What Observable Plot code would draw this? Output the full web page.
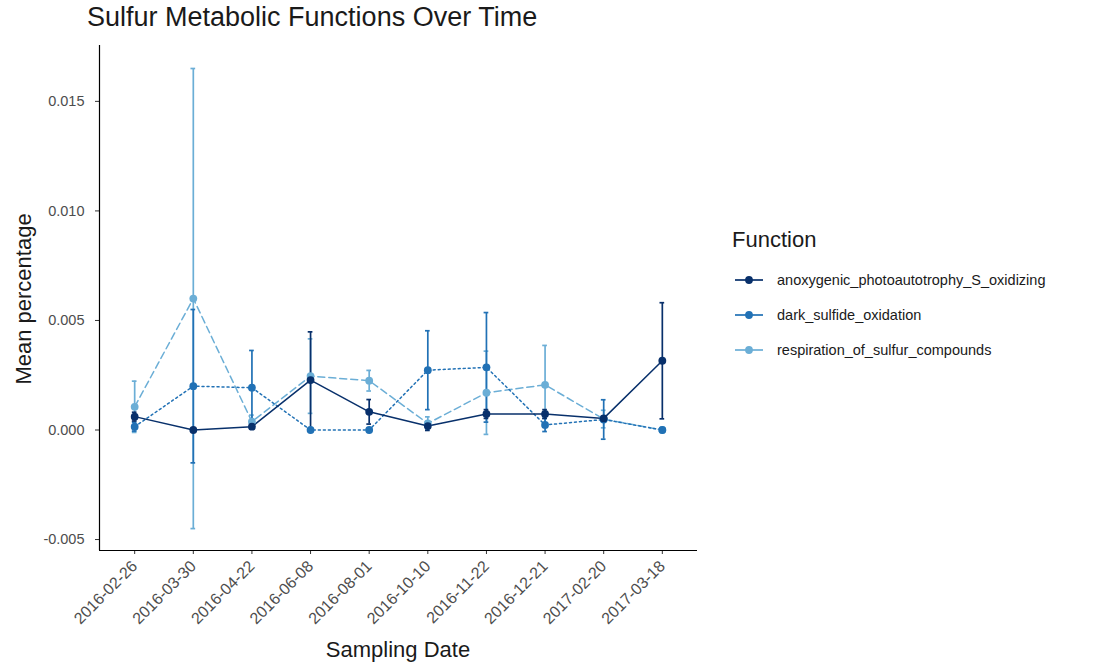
<!DOCTYPE html>
<html>
<head>
<meta charset="utf-8">
<script src="https://cdn.jsdelivr.net/npm/d3@7"></script>
<script src="https://cdn.jsdelivr.net/npm/@observablehq/plot@0.6"></script>
<style>
  body { margin: 0; background: #fff; font-family: "Liberation Sans", Arial, Helvetica, sans-serif; }
  #wrap { position: relative; width: 1110px; height: 668px; overflow: hidden; }
  #title { position: absolute; left: 87px; top: 2px; font-size: 27px; color: #1a1a1a; white-space: nowrap; }
  #ylab { position: absolute; left: 24px; top: 299px; font-size: 22px; color: #1a1a1a; white-space: nowrap;
          transform: translate(-50%, -50%) rotate(-90deg); }
  #xlab { position: absolute; left: 398px; top: 650px; font-size: 22px; color: #1a1a1a; white-space: nowrap;
          transform: translate(-50%, -50%); }
  #legend { position: absolute; left: 732px; top: 227px; color: #1a1a1a; }
  #legend .ltitle { font-size: 22px; margin-bottom: 9px; }
  #legend .item { display: flex; align-items: center; height: 35px; font-size: 14.5px; }
  #legend svg { margin-right: 12px; }
  #chart svg { position: absolute; left: 0; top: 0; }
</style>
</head>
<body>
<div id="wrap">
  <div id="chart"></div>
  <div id="title">Sulfur Metabolic Functions Over Time</div>
  <div id="ylab">Mean percentage</div>
  <div id="xlab">Sampling Date</div>
  <div id="legend"></div>
</div>
<script>
// Sampling dates (categorical x axis)
const dates = ["2016-02-26", "2016-03-30", "2016-04-22", "2016-06-08", "2016-08-01",
               "2016-10-10", "2016-11-22", "2016-12-21", "2017-02-20", "2017-03-18"];

// Functional groups
const functions = ["anoxygenic_photoautotrophy_S_oxidizing", "dark_sulfide_oxidation", "respiration_of_sulfur_compounds"];
const colors = ["#08306b", "#2171b5", "#6baed6"];
const dashes = ["none", "2,3", "7,4"];

// Mean percentage and standard error per date, one pair of arrays per function
const anoxMean = [0.00061, 0.00000, 0.00015, 0.00228, 0.00083, 0.00018, 0.00073, 0.00073, 0.00053, 0.00316];
const anoxErr  = [0.00020, 0.00000, 0.00010, 0.00220, 0.00056, 0.00020, 0.00020, 0.00020, 0.00010, 0.00265];
const darkMean = [0.00015, 0.00200, 0.00193, 0.00000, 0.00000, 0.00273, 0.00286, 0.00023, 0.00048, 0.00000];
const darkErr  = [0.00020, 0.00350, 0.00170, 0.00000, 0.00000, 0.00180, 0.00250, 0.00030, 0.00090, 0.00000];
const respMean = [0.00106, 0.00600, 0.00038, 0.00246, 0.00225, 0.00030, 0.00170, 0.00206, 0.00050, 0.00000];
const respErr  = [0.00117, 0.01050, 0.00030, 0.00170, 0.00047, 0.00030, 0.00190, 0.00180, 0.00040, 0.00000];

// Y axis ticks
const yTicks = [-0.005, 0.000, 0.005, 0.010, 0.015];

const means = [anoxMean, darkMean, respMean];
const errs = [anoxErr, darkErr, respErr];

// Long table: one row per function and date (index i on the x axis)
const rows = [];
functions.forEach((f, k) => {
  dates.forEach((d, i) => {
    rows.push({fn: f, i, date: d, mean: means[k][i], lo: means[k][i] - errs[k][i], hi: means[k][i] + errs[k][i]});
  });
});
// later functions are drawn first so the first one sits on top
const drawOrder = [2, 1, 0];

const yDomain = [-0.0055, 0.01755];
const xDomain = [-0.6, dates.length - 1 + 0.6];
const capHalf = 0.04;

const marks = [];
for (const k of drawOrder) {
  const sub = rows.filter(r => r.fn === functions[k]);
  marks.push(Plot.line(sub, {x: "i", y: "mean", stroke: colors[k], strokeWidth: 1.5, strokeDasharray: dashes[k] === "none" ? null : dashes[k]}));
}
for (const k of drawOrder) {
  const sub = rows.filter(r => r.fn === functions[k] && r.hi > r.lo);
  marks.push(Plot.ruleX(sub, {x: "i", y1: "lo", y2: "hi", stroke: colors[k], strokeWidth: 1.7}));
  marks.push(Plot.ruleY(sub, {y: "lo", x1: r => r.i - capHalf, x2: r => r.i + capHalf, stroke: colors[k], strokeWidth: 1.7}));
  marks.push(Plot.ruleY(sub, {y: "hi", x1: r => r.i - capHalf, x2: r => r.i + capHalf, stroke: colors[k], strokeWidth: 1.7}));
}
for (const k of drawOrder) {
  const sub = rows.filter(r => r.fn === functions[k]);
  marks.push(Plot.dot(sub, {x: "i", y: "mean", r: 3.9, fill: colors[k], stroke: "none"}));
}

const chart = Plot.plot({
  width: 1110,
  height: 668,
  marginLeft: 99,
  marginRight: 413,
  marginTop: 45,
  marginBottom: 118,
  style: {fontFamily: "Liberation Sans, Arial, Helvetica, sans-serif", background: "transparent", overflow: "visible"},
  x: {domain: xDomain},
  y: {domain: yDomain},
  marks: [
    Plot.axisY({ticks: yTicks, tickFormat: v => v.toFixed(3), tickSize: 4, tickPadding: 11, fontSize: 14.5, fill: "#4d4d4d", stroke: "#333", label: null}),
    Plot.axisX({ticks: d3.range(dates.length), tickFormat: i => dates[i], tickSize: 4, tickPadding: 9, tickRotate: -45, fontSize: 16, fill: "#4d4d4d", stroke: "#333", label: null}),
    Plot.ruleX([xDomain[0]], {stroke: "#000", strokeWidth: 1.2}),
    Plot.ruleY([yDomain[0]], {stroke: "#000", strokeWidth: 1.2}),
    ...marks
  ]
});
document.getElementById("chart").appendChild(chart);

// Legend: line + point key for each function
const legend = document.getElementById("legend");
const lt = document.createElement("div");
lt.className = "ltitle";
lt.textContent = "Function";
legend.appendChild(lt);
functions.forEach((f, k) => {
  const item = document.createElement("div");
  item.className = "item";
  const ns = "http://www.w3.org/2000/svg";
  const s = document.createElementNS(ns, "svg");
  s.setAttribute("width", 33); s.setAttribute("height", 16);
  const ln = document.createElementNS(ns, "line");
  ln.setAttribute("x1", 3); ln.setAttribute("x2", 31); ln.setAttribute("y1", 8); ln.setAttribute("y2", 8);
  ln.setAttribute("stroke", colors[k]); ln.setAttribute("stroke-width", 1.7);
  const c = document.createElementNS(ns, "circle");
  c.setAttribute("cx", 17); c.setAttribute("cy", 8); c.setAttribute("r", 3.9); c.setAttribute("fill", colors[k]);
  s.appendChild(ln); s.appendChild(c);
  const t = document.createElement("span");
  t.textContent = f;
  item.appendChild(s); item.appendChild(t);
  legend.appendChild(item);
});
</script>
</body>
</html>
